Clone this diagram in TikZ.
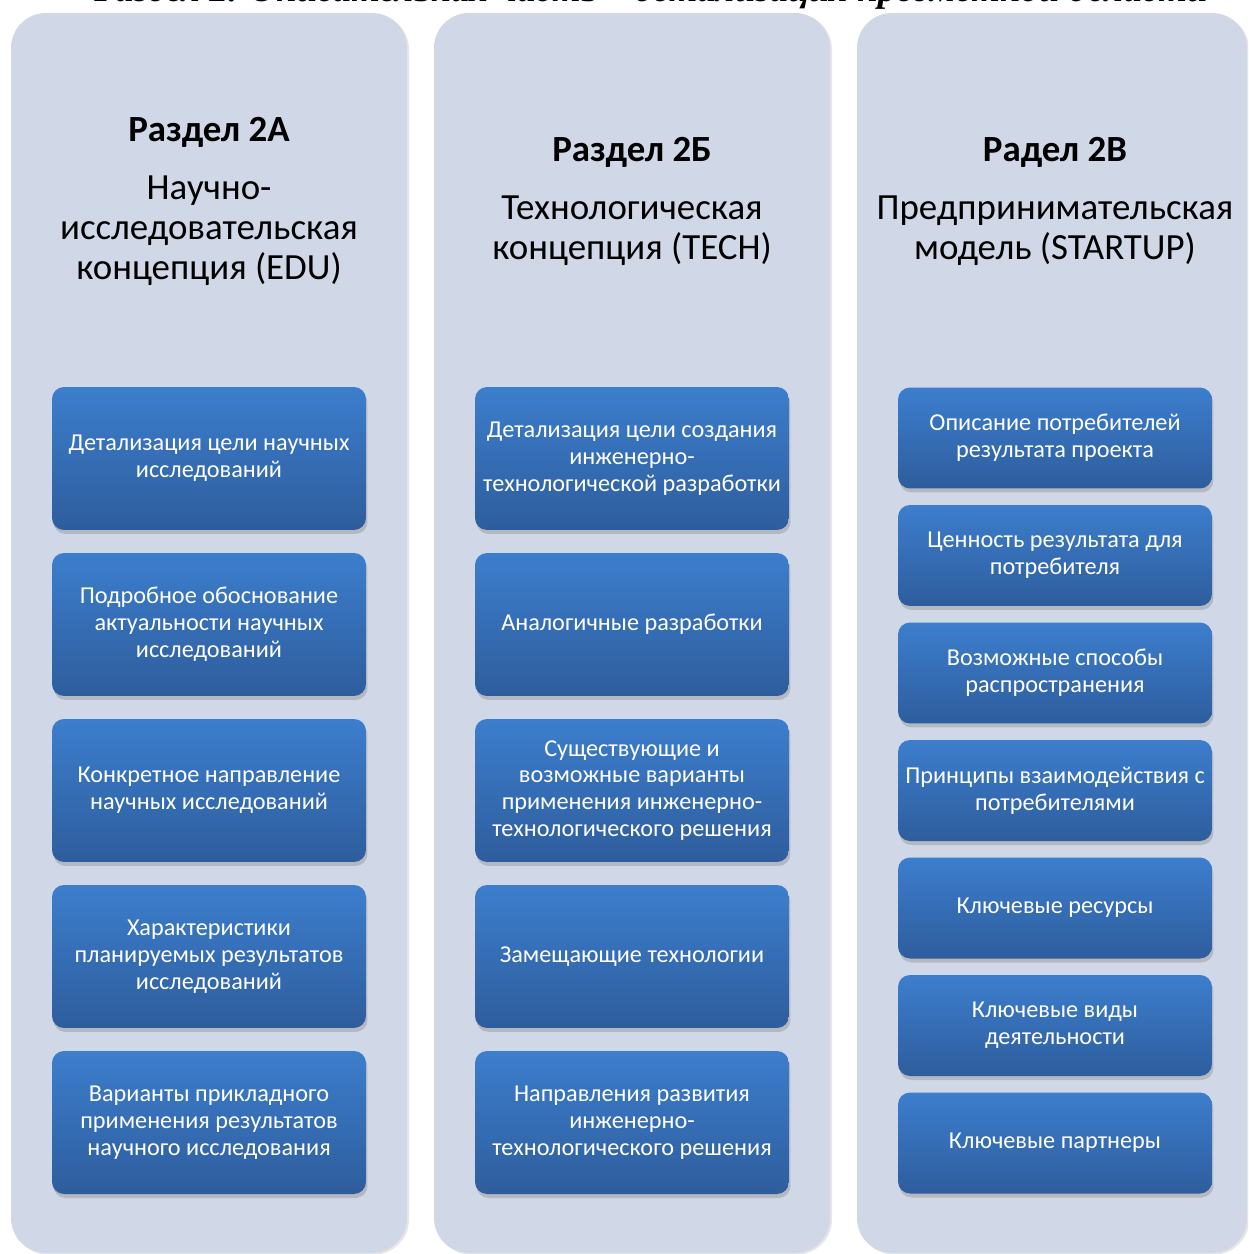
\documentclass[tikz,border=0pt]{standalone}
\usepackage{fontspec}
\setmainfont{Carlito}
\newfontfamily\capfont{Liberation Serif}
\usetikzlibrary{math,shadows,positioning}
\definecolor{panelgray}{RGB}{208,215,230}
\definecolor{boxtop}{RGB}{60,126,205}
\definecolor{boxbot}{RGB}{46,93,157}
\tikzset{
  panel/.style={fill=panelgray, rounded corners=0.7cm,
    drop shadow={opacity=0.2, shadow xshift=0.04cm, shadow yshift=-0.03cm}},
  bluebox/.style={rectangle, rounded corners=0.24cm, top color=boxtop, bottom color=boxbot,
    text=white, align=center, minimum width=6.28cm,
    font=\fontsize{13.8}{15.3}\selectfont,
    drop shadow={opacity=0.35, shadow xshift=0.03cm, shadow yshift=-0.08cm}},
  headtext/.style={font=\bfseries\fontsize{21}{24}\selectfont},
  subtext/.style={align=center, font=\fontsize{21}{22.8}\selectfont},
}

\begin{document}
\begin{tikzpicture}[x=0.02cm, y=-0.02cm]
\tikzmath{
\xa=209; \xb=632; \xc=1055;
}
\clip (0,0) rectangle (1248,1254);

% caption of the page, cut by the top edge
\node[font=\capfont\bfseries\itshape\fontsize{21}{24}\selectfont, anchor=base] (caption) at (651,2)
  {Раздел 2. Описательная часть – детализация предметной области};

% panels
\fill[panel] (11,13) rectangle (407,1253);
\fill[panel] (434,13) rectangle (830,1253);
\fill[panel] (857,13) rectangle (1247,1253);

% headings
\node[headtext] (headA) at (\xa,132) {Раздел 2А};
\node[subtext] (subA) at (\xa,230.5) {Научно-\\исследовательская\\концепция (EDU)};
\node[headtext] (headB) at (\xb,152) {Раздел 2Б};
\node[subtext] (subB) at (\xb,231) {Технологическая\\концепция (TECH)};
\node[headtext] (headC) at (\xc,152) {Радел 2В};
\node[subtext] (subC) at (\xc,231) {Предпринимательская\\модель (STARTUP)};

% column EDU
\foreach \txt [count=\i] in {
  {Детализация цели научных\\исследований},
  {Подробное обоснование\\актуальности научных\\исследований},
  {Конкретное направление\\научных исследований},
  {Характеристики\\планируемых результатов\\исследований},
  {Варианты прикладного\\применения результатов\\научного исследования}}
  \node[bluebox, minimum height=2.86cm] (edu\i) at (\xa,292.5+166*\i) {\txt};

% column TECH
\foreach \txt [count=\i] in {
  {Детализация цели создания\\инженерно-\\технологической разработки},
  {Аналогичные разработки},
  {Существующие и\\возможные варианты\\применения инженерно-\\технологического решения},
  {Замещающие технологии},
  {Направления развития\\инженерно-\\технологического решения}}
  \node[bluebox, minimum height=2.86cm] (tech\i) at (\xb,292.5+166*\i) {\txt};

% column STARTUP
\foreach \txt [count=\i] in {
  {Описание потребителей\\результата проекта},
  {Ценность результата для\\потребителя},
  {Возможные способы\\распространения},
  {Принципы взаимодействия с\\потребителями},
  {Ключевые ресурсы},
  {Ключевые виды\\деятельности},
  {Ключевые партнеры}}
  \node[bluebox, minimum height=2.02cm] (start\i) at (\xc,320.5+117.5*\i) {\txt};

\end{tikzpicture}
\end{document}
